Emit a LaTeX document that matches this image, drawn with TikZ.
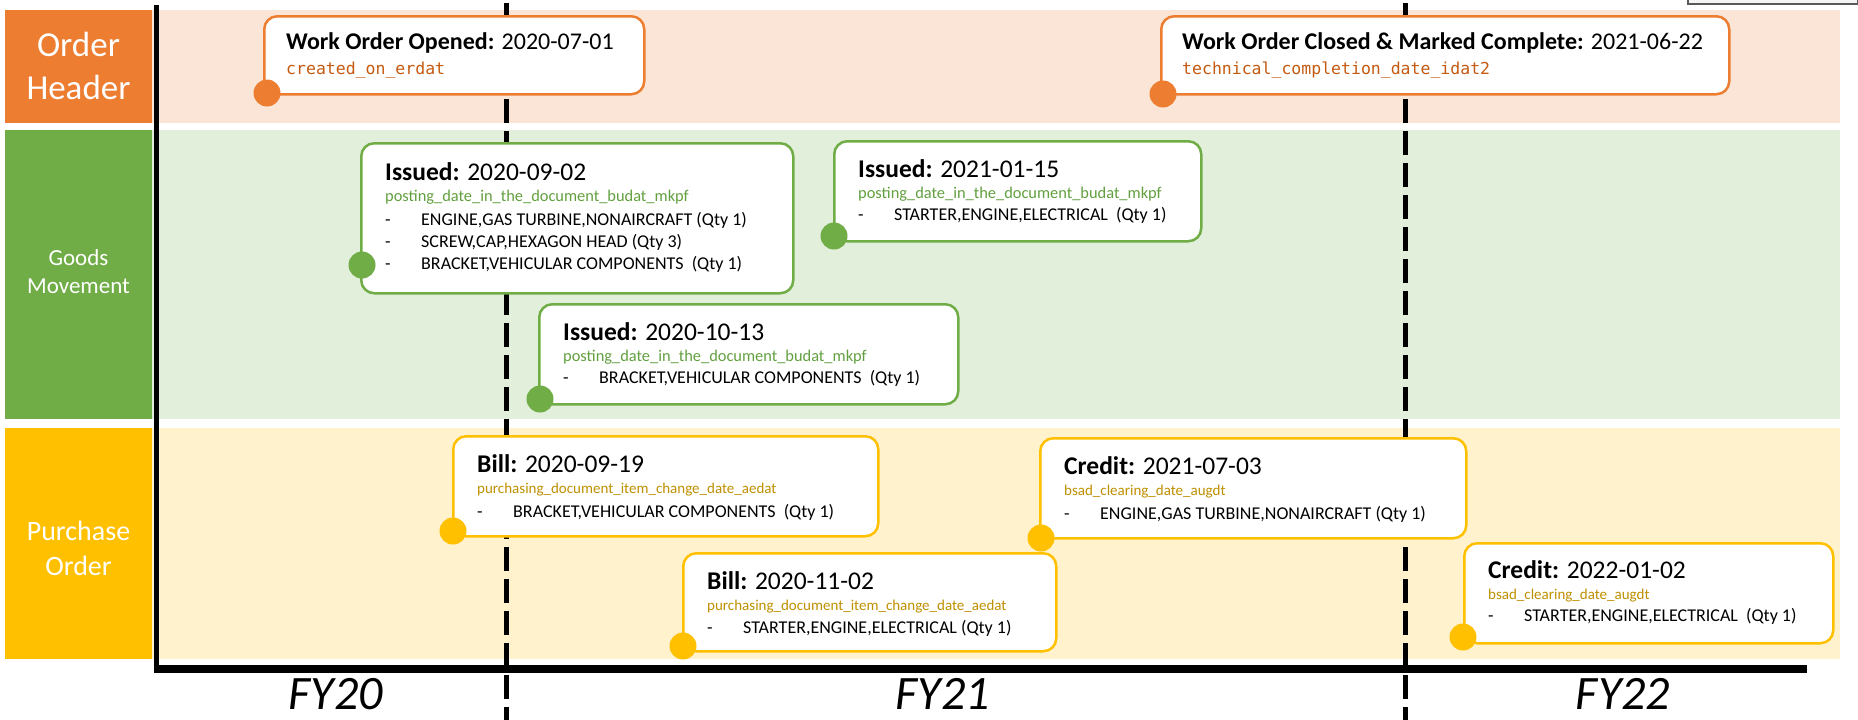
\documentclass[tikz,border=0pt]{standalone}
\usepackage{fontspec}
\setmainfont{Carlito}
\newfontfamily\codefont{DejaVu Sans Mono}
\definecolor{ohOrange}{HTML}{ED7D31}
\definecolor{ohBg}{HTML}{FBE5D6}
\definecolor{ohText}{HTML}{C55A11}
\definecolor{gmGreen}{HTML}{70AD47}
\definecolor{gmBg}{HTML}{E2EFDA}
\definecolor{gmText}{HTML}{62A03F}
\definecolor{poYellow}{HTML}{FFC000}
\definecolor{poBg}{HTML}{FFF2CC}
\definecolor{poText}{HTML}{BF9000}
\begin{document}
\begin{tikzpicture}[x=1pt,y=-1pt,
  lanelabel/.style={fill=#1, draw=none, inner sep=0pt, anchor=north west},
  lanetext/.style={text=white, align=center, inner sep=0pt},
  laneband/.style={fill=#1, draw=none, inner sep=0pt, anchor=north west},
  evbox/.style={draw=#1, line width=2.5pt, fill=white, rounded corners=13pt, inner sep=0pt, anchor=north west},
  evdot/.style={fill=#1, draw=none, circle, inner sep=0pt, minimum size=27pt},
  ttl/.style={anchor=base west, inner sep=0pt, font=\fontsize{24}{29}\selectfont},
  ettl/.style={anchor=base west, inner sep=0pt, font=\fontsize{25.5}{30}\selectfont},
  fld/.style={anchor=base west, inner sep=0pt, text=#1, font=\fontsize{15}{18}\selectfont},
  gfld/.style={anchor=base west, inner sep=0pt, text=gmText, font=\fontsize{16.4}{19}\selectfont},
  cod/.style={anchor=base west, inner sep=0pt, text=ohText, font=\codefont\fontsize{16.5}{20}\selectfont},
  itm/.style={anchor=base west, inner sep=0pt, font=\fontsize{18}{22}\selectfont},
  fy/.style={font=\fontsize{48}{58}\selectfont\itshape, inner sep=0pt, anchor=base},
  yeardiv/.style={line width=5pt, dash pattern=on 24pt off 8pt}
]
\useasboundingbox (0,0) rectangle (1858,720);

% lane bands
\node[laneband=ohBg, minimum width=1688pt, minimum height=113.5pt] (ohband) at (152,9.5) {};
\node[laneband=gmBg, minimum width=1688pt, minimum height=289pt] (gmband) at (152,130) {};
\node[laneband=poBg, minimum width=1688pt, minimum height=231pt] (poband) at (152,428) {};

% lane labels
\node[lanelabel=ohOrange, minimum width=147pt, minimum height=113.5pt] (ohlabel) at (5,9.5) {};
\node[lanetext, font=\fontsize{35}{43}\selectfont] (ohlabeltxt) at (78.5,66) {Order\\Header};
\node[lanelabel=gmGreen, minimum width=147pt, minimum height=289pt] (gmlabel) at (5,130) {};
\node[lanetext, font=\fontsize{23}{28}\selectfont] (gmlabeltxt) at (78.5,272) {Goods\\Movement};
\node[lanelabel=poYellow, minimum width=147pt, minimum height=231pt] (polabel) at (5,428) {};
\node[lanetext, font=\fontsize{28}{35}\selectfont] (polabeltxt) at (78.5,548) {Purchase\\Order};

% corner artifact
\node[draw=gray!70!black, fill=gray!8, line width=1.5pt, inner sep=0pt, anchor=north west, minimum width=170pt, minimum height=9pt] (corner) at (1687,-6) {};

% year dividers
\coordinate (d1top) at (506,3);
\coordinate (d1bot) at (506,720);
\coordinate (d2top) at (1405,3);
\coordinate (d2bot) at (1405,720);
\draw[yeardiv] (d1top) -- (d1bot);
\draw[yeardiv] (d2top) -- (d2bot);

% axes
\coordinate (axTop) at (156.5,5);
\coordinate (axCorner) at (156.5,669);
\coordinate (axStart) at (154,669);
\coordinate (axEnd) at (1807,669);
\draw[line width=5pt] (axTop) -- (axCorner);
\draw[line width=8pt] (axStart) -- (axEnd);

% ---------- Order header events
\node[evbox=ohOrange, minimum width=380pt, minimum height=78pt] (wo1) at (263,15) {};
\node[ttl] (wo1t) at ([shift={(23,34)}]wo1.north west) {\textbf{Work Order Opened:} 2020-07-01};
\node[cod] (wo1f) at ([shift={(23,59)}]wo1.north west) {created\_on\_erdat};
\node[evdot=ohOrange] (wo1d) at (267,93) {};

\node[evbox=ohOrange, minimum width=568pt, minimum height=78pt] (wo2) at (1160,15) {};
\node[ttl] (wo2t) at ([shift={(22,34)}]wo2.north west) {\textbf{Work Order Closed \& Marked Complete:} 2021-06-22};
\node[cod] (wo2f) at ([shift={(22,59)}]wo2.north west) {technical\_completion\_date\_idat2};
\node[evdot=ohOrange] (wo2d) at (1163,94) {};

% ---------- Goods movement events
\node[evbox=gmGreen, minimum width=432pt, minimum height=150pt] (gm1) at (360,142) {};
\node[ettl] (gm1t) at ([shift={(25,38)}]gm1.north west) {\textbf{Issued:} 2020-09-02};
\node[gfld] (gm1f) at ([shift={(25,59)}]gm1.north west) {posting\_date\_in\_the\_document\_budat\_mkpf};
\node[itm] (gm1a) at ([shift={(25,83)}]gm1.north west) {-};
\node[itm] (gm1ai) at ([shift={(61,83)}]gm1.north west) {ENGINE,GAS TURBINE,NONAIRCRAFT (Qty 1)};
\node[itm] (gm1b) at ([shift={(25,105)}]gm1.north west) {-};
\node[itm] (gm1bi) at ([shift={(61,105)}]gm1.north west) {SCREW,CAP,HEXAGON HEAD (Qty 3)};
\node[itm] (gm1c) at ([shift={(25,127)}]gm1.north west) {-};
\node[itm] (gm1ci) at ([shift={(61,127)}]gm1.north west) {BRACKET,VEHICULAR COMPONENTS\ \ (Qty 1)};
\node[evdot=gmGreen] (gm1d) at (362,265) {};

\node[evbox=gmGreen, minimum width=367pt, minimum height=100pt] (gm2) at (833,140) {};
\node[ettl] (gm2t) at ([shift={(25,37)}]gm2.north west) {\textbf{Issued:} 2021-01-15};
\node[gfld] (gm2f) at ([shift={(25,58)}]gm2.north west) {posting\_date\_in\_the\_document\_budat\_mkpf};
\node[itm] (gm2a) at ([shift={(25,80)}]gm2.north west) {-};
\node[itm] (gm2ai) at ([shift={(61,80)}]gm2.north west) {STARTER,ENGINE,ELECTRICAL\ \ (Qty 1)};
\node[evdot=gmGreen] (gm2d) at (834,236) {};

\node[evbox=gmGreen, minimum width=419pt, minimum height=100pt] (gm3) at (538,303) {};
\node[ettl] (gm3t) at ([shift={(25,37)}]gm3.north west) {\textbf{Issued:} 2020-10-13};
\node[gfld] (gm3f) at ([shift={(25,58)}]gm3.north west) {posting\_date\_in\_the\_document\_budat\_mkpf};
\node[itm] (gm3a) at ([shift={(25,80)}]gm3.north west) {-};
\node[itm] (gm3ai) at ([shift={(61,80)}]gm3.north west) {BRACKET,VEHICULAR COMPONENTS\ \ (Qty 1)};
\node[evdot=gmGreen] (gm3d) at (540,399) {};

% ---------- Purchase order events
\node[evbox=poYellow, minimum width=425pt, minimum height=100pt] (po1) at (452,435) {};
\node[ettl] (po1t) at ([shift={(25,37)}]po1.north west) {\textbf{Bill:} 2020-09-19};
\node[fld=poText] (po1f) at ([shift={(25,58)}]po1.north west) {purchasing\_document\_item\_change\_date\_aedat};
\node[itm] (po1a) at ([shift={(25,82)}]po1.north west) {-};
\node[itm] (po1ai) at ([shift={(61,82)}]po1.north west) {BRACKET,VEHICULAR COMPONENTS\ \ (Qty 1)};
\node[evdot=poYellow] (po1d) at (453,531) {};

\node[evbox=poYellow, minimum width=426pt, minimum height=100pt] (po2) at (1039,437) {};
\node[ettl] (po2t) at ([shift={(25,37)}]po2.north west) {\textbf{Credit:} 2021-07-03};
\node[fld=poText] (po2f) at ([shift={(25,58)}]po2.north west) {bsad\_clearing\_date\_augdt};
\node[itm] (po2a) at ([shift={(25,82)}]po2.north west) {-};
\node[itm] (po2ai) at ([shift={(61,82)}]po2.north west) {ENGINE,GAS TURBINE,NONAIRCRAFT (Qty 1)};
\node[evdot=poYellow] (po2d) at (1041,538) {};

\node[evbox=poYellow, minimum width=373pt, minimum height=98pt] (po3) at (682,552) {};
\node[ettl] (po3t) at ([shift={(25,37)}]po3.north west) {\textbf{Bill:} 2020-11-02};
\node[fld=poText] (po3f) at ([shift={(25,58)}]po3.north west) {purchasing\_document\_item\_change\_date\_aedat};
\node[itm] (po3a) at ([shift={(25,81)}]po3.north west) {-};
\node[itm] (po3ai) at ([shift={(61,81)}]po3.north west) {STARTER,ENGINE,ELECTRICAL (Qty 1)};
\node[evdot=poYellow] (po3d) at (683,646) {};

\node[evbox=poYellow, minimum width=369pt, minimum height=100pt] (po4) at (1463,542) {};
\node[ettl] (po4t) at ([shift={(25,36)}]po4.north west) {\textbf{Credit:} 2022-01-02};
\node[fld=poText] (po4f) at ([shift={(25,57)}]po4.north west) {bsad\_clearing\_date\_augdt};
\node[itm] (po4a) at ([shift={(25,79)}]po4.north west) {-};
\node[itm] (po4ai) at ([shift={(61,79)}]po4.north west) {STARTER,ENGINE,ELECTRICAL\ \ (Qty 1)};
\node[evdot=poYellow] (po4d) at (1463,637) {};

% fiscal years
\node[fy] (fy20) at (336,709) {FY20};
\node[fy] (fy21) at (943,709) {FY21};
\node[fy] (fy22) at (1623,709) {FY22};
\end{tikzpicture}
\end{document}
